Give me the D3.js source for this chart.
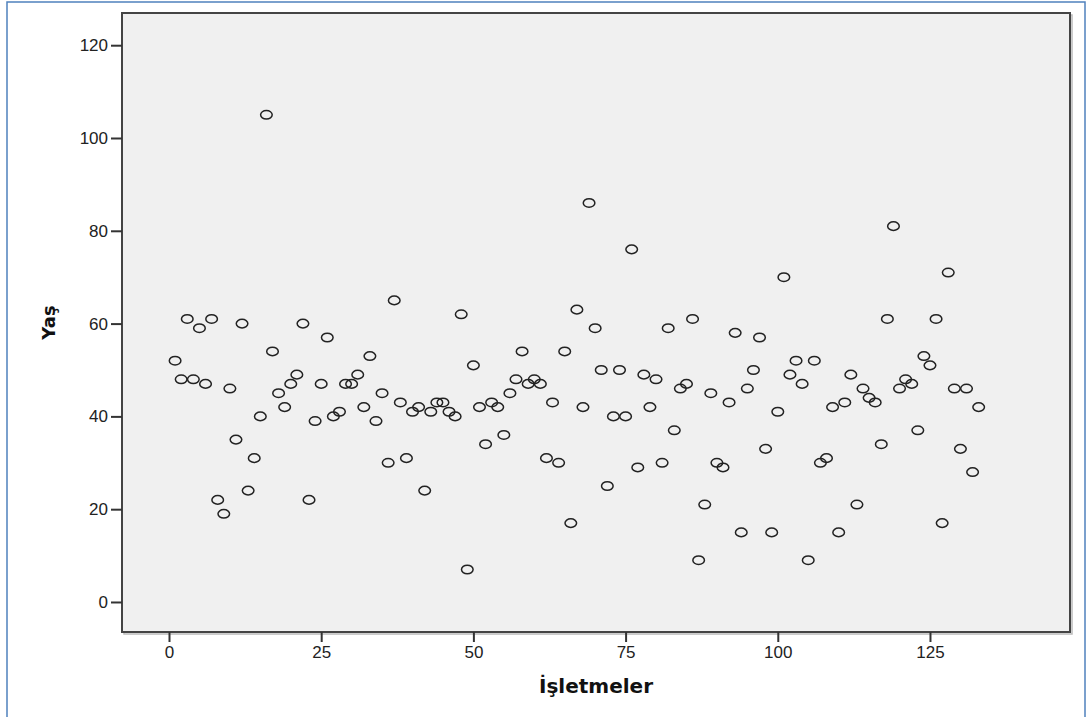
<!DOCTYPE html>
<html>
<head>
<meta charset="utf-8">
<script src="https://cdn.jsdelivr.net/npm/d3@7/dist/d3.min.js"></script>
<style>
  html, body { margin: 0; padding: 0; background: #fff; }
  svg { display: block; }
</style>
</head>
<body>
<svg id="chart" width="1086" height="717"></svg>
<script>
// ---- Data ----
const isletmeler = d3.range(1, 134);
const yas = [
  52, 48, 61, 48, 59, 47, 61, 22, 19, 46,
  35, 60, 24, 31, 40, 105, 54, 45, 42, 47,
  49, 60, 22, 39, 47, 57, 40, 41, 47, 47,
  49, 42, 53, 39, 45, 30, 65, 43, 31, 41,
  42, 24, 41, 43, 43, 41, 40, 62, 7, 51,
  42, 34, 43, 42, 36, 45, 48, 54, 47, 48,
  47, 31, 43, 30, 54, 17, 63, 42, 86, 59,
  50, 25, 40, 50, 40, 76, 29, 49, 42, 48,
  30, 59, 37, 46, 47, 61, 9, 21, 45, 30,
  29, 43, 58, 15, 46, 50, 57, 33, 15, 41,
  70, 49, 52, 47, 9, 52, 30, 31, 42, 15,
  43, 49, 21, 46, 44, 43, 34, 61, 81, 46,
  48, 47, 37, 53, 51, 61, 17, 71, 46, 33,
  46, 28, 42
];
const xTicks = [0, 25, 50, 75, 100, 125];
const yTicks = [0, 20, 40, 60, 80, 100, 120];
const xTitle = "İşletmeler";
const yTitle = "Yaş";

// ---- Layout ----
const plot = { left: 122, top: 13, right: 1070, bottom: 632 };
const svg = d3.select("#chart");

// outer blue frame
svg.append("rect")
  .attr("x", 7).attr("y", 2)
  .attr("width", 1078).attr("height", 730)
  .attr("fill", "none")
  .attr("stroke", "#4f81bd")
  .attr("stroke-width", 1.5);

const x = d3.scaleLinear().domain([-7.72, 148.0]).range([plot.left, plot.right]);
const y = d3.scaleLinear().domain([-6.47, 126.94]).range([plot.bottom, plot.top]);

// plot background + frame
svg.append("rect")
  .attr("x", plot.left + 2).attr("y", plot.top + 2)
  .attr("width", plot.right - plot.left).attr("height", plot.bottom - plot.top)
  .attr("fill", "none").attr("stroke", "#bbb").attr("stroke-width", 1.5);
svg.append("rect")
  .attr("x", plot.left).attr("y", plot.top)
  .attr("width", plot.right - plot.left).attr("height", plot.bottom - plot.top)
  .attr("fill", "#f0f0f0")
  .attr("stroke", "#444")
  .attr("stroke-width", 2);

// axes
const fontTick = "'Liberation Sans', Arial, sans-serif";
const yAxis = d3.axisLeft(y).tickValues(yTicks).tickSize(11).tickPadding(3).tickSizeOuter(0);
const gy = svg.append("g").attr("transform", `translate(${plot.left},0)`).call(yAxis);
gy.select(".domain").remove();
gy.selectAll(".tick line").attr("stroke", "#333").attr("stroke-width", 2);
gy.selectAll(".tick text").attr("fill", "#222").style("font-family", fontTick).style("font-size", "17px");

const xAxis = d3.axisBottom(x).tickValues(xTicks).tickSize(10).tickPadding(4).tickSizeOuter(0);
const gx = svg.append("g").attr("transform", `translate(0,${plot.bottom})`).call(xAxis);
gx.select(".domain").remove();
gx.selectAll(".tick line").attr("stroke", "#333").attr("stroke-width", 2);
gx.selectAll(".tick text").attr("fill", "#222").style("font-family", fontTick).style("font-size", "17px");

// points
svg.append("g").selectAll("ellipse")
  .data(isletmeler.map((d, i) => ({ x: d, y: yas[i] })))
  .join("ellipse")
  .attr("cx", d => x(d.x))
  .attr("cy", d => y(d.y))
  .attr("rx", 5.8)
  .attr("ry", 4.3)
  .attr("fill", "none")
  .attr("stroke", "#222")
  .attr("stroke-width", 1.5);

// titles
svg.append("text")
  .attr("x", (plot.left + plot.right) / 2)
  .attr("y", 693)
  .attr("text-anchor", "middle")
  .style("font-family", "'DejaVu Sans', Verdana, sans-serif")
  .style("font-weight", "bold")
  .style("font-size", "20px")
  .attr("fill", "#111")
  .text(xTitle);

svg.append("text")
  .attr("transform", `translate(55,${(plot.top + plot.bottom) / 2}) rotate(-90)`)
  .attr("text-anchor", "middle")
  .style("font-family", "'DejaVu Sans', Verdana, sans-serif")
  .style("font-weight", "bold")
  .style("font-size", "18px")
  .attr("fill", "#111")
  .text(yTitle);
</script>
</body>
</html>
